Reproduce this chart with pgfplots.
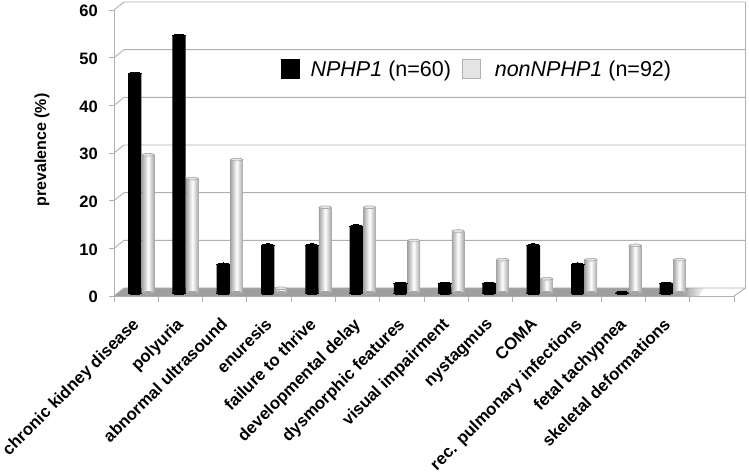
\documentclass[border=0pt]{standalone}
\usepackage{pgfplots}
\pgfplotsset{compat=1.18}
\usepackage{pgfplotstable}
\usepackage{fontspec}
\setmainfont{Liberation Sans}
\definecolor{wall}{RGB}{176,176,176}
\definecolor{floorgray}{RGB}{158,158,158}
\definecolor{lightbar}{RGB}{228,228,228}
\definecolor{barside}{RGB}{165,165,165}

% x = slot position of the black bar, gray bar next to it
\pgfplotstableread{
xb xg nphp non base
0.47 0.77 46 29 0
1.47 1.77 54 24 0
2.47 2.77 6 28 0
3.47 3.77 10 1 0
4.47 4.77 10 18 0
5.47 5.77 14 18 0
6.47 6.77 2 11 0
7.47 7.77 2 13 0
8.47 8.77 2 7 0
9.47 9.77 10 3 0
10.47 10.77 6 7 0
11.47 11.77 0 10 0
12.47 12.77 2 7 0
}\prevdata

% one gray bar, so each gets its own cylinder shading
\newcommand{\graybar}[2]{\addplot[forget plot, ybar, bar width=12.5pt, bar shift=0pt, yshift=3pt, draw=none, left color=barside, right color=barside, middle color=white, skip coords between index={0}{#1}, skip coords between index={#2}{13}] table[x=xg, y=non] {\prevdata};}

\begin{document}
\begin{tikzpicture}
\path[use as bounding box] (-114pt,-178pt) rectangle (635pt,296pt);
\begin{axis}[
    scale only axis, width=620pt, height=286pt,
    at={(0pt,0pt)}, anchor=origin,
    xmin=0, xmax=14, ymin=0, ymax=60,
    clip=false,
    axis x line=bottom, axis y line=left,
    axis line style={wall, line width=0.9pt, -},
    ytick={0,10,...,60},
    xtick={0.5,1.5,2.5,3.5,4.5,5.5,6.5,7.5,8.5,9.5,10.5,11.5,12.5},
    xticklabels={chronic kidney disease,polyuria,abnormal ultrasound,enuresis,failure to thrive,developmental delay,dysmorphic features,visual impairment,nystagmus,COMA,rec. pulmonary infections,fetal tachypnea,skeletal deformations},
    minor xtick={0,1,...,14},
    % the shifts act along the rotated text
    x tick label style={font=\fontsize{16.8}{17}\selectfont\bfseries, rotate=45, anchor=north east, inner sep=0pt, xshift=-14.5pt, yshift=-7.5pt},
    y tick label style={font=\fontsize{16.5}{17}\selectfont\bfseries, inner sep=0pt, xshift=-11pt, yshift=-1pt},
    /pgf/number format/assume math mode=true,
    tick style={wall, line width=0.8pt},
    major x tick style={draw=none},
    major tick length=5pt, minor tick length=6pt,
    tick align=outside,
    ylabel={prevalence (\%)},
    every axis y label/.style={at={(-72pt,146pt)}, rotate=90, anchor=center, font=\fontsize{16}{16}\selectfont\bfseries},
    legend style={at={(164pt,227pt)}, anchor=west, draw=none, fill=none,
        font=\fontsize{21.5}{22}\selectfont, /tikz/every even column/.append style={column sep=9pt}},
    legend columns=2,
    legend cell align=left,
]
% floor of the 3d box
\addplot[forget plot, draw=none, fill=floorgray] coordinates {(0,0)(0.226,1.68)(13,1.68)(12.85,0)} -- cycle;
\addplot[forget plot, draw=none, left color=floorgray, right color=white] coordinates {(12.85,0)(13,1.68)(13.35,1.68)(13.2,0)} -- cycle;
% back wall grid
\addplot[forget plot, wall, line width=0.9pt, unbounded coords=jump] coordinates {
(0,0)(0.226,1.68)(14.26,1.68) (0,nan)
(0,10)(0.226,11.68)(14.26,11.68) (0,nan)
(0,20)(0.226,21.68)(14.26,21.68) (0,nan)
(0,30)(0.226,31.68)(14.26,31.68) (0,nan)
(0,40)(0.226,41.68)(14.26,41.68) (0,nan)
(0,50)(0.226,51.68)(14.26,51.68) (0,nan)
(0,60)(0.226,61.68)(14.26,61.68) (0,nan)
(14,0)(14.26,1.68)(14.26,61.68)
};
% feet of the cylinders go under the bars (plot marks stroke even with draw=none)
\addplot[forget plot, only marks, yshift=3pt, mark=*, mark size=6.6pt, mark options={yscale=0.22, fill=black, draw=black, line width=0pt}] table[x=xb, y=base] {\prevdata};
\addplot[forget plot, only marks, yshift=3pt, mark=*, mark size=6pt, mark options={yscale=0.22, fill=barside, draw=barside, line width=0pt}] table[x=xg, y=base] {\prevdata};
% bars, lifted a little off the front edge
\addplot[forget plot, ybar, bar width=13.3pt, bar shift=0pt, yshift=3pt, fill=black, draw=none] table[x=xb, y=nphp] {\prevdata};
\addplot[forget plot, only marks, yshift=3pt, mark=*, mark size=6.6pt, mark options={yscale=0.22, fill=black, draw=black, line width=0pt}] table[x=xb, y=nphp] {\prevdata};
\graybar{0}{1}\graybar{1}{2}\graybar{2}{3}\graybar{3}{4}\graybar{4}{5}\graybar{5}{6}\graybar{6}{7}
\graybar{7}{8}\graybar{8}{9}\graybar{9}{10}\graybar{10}{11}\graybar{11}{12}\graybar{12}{13}
\addplot[forget plot, only marks, yshift=3pt, mark=*, mark size=6.2pt, mark options={yscale=0.22, fill=lightbar, draw=barside, line width=0.6pt}] table[x=xg, y=non] {\prevdata};
% legend
\addlegendimage{legend image code/.code={\fill[black] (0pt,-9.5pt) rectangle (18pt,9.5pt);}}
\addlegendentry{\hspace{9pt}\textit{NPHP1} (n=60)}
\addlegendimage{legend image code/.code={\filldraw[fill=lightbar, draw=wall, line width=0.8pt] (0pt,-9.5pt) rectangle (18pt,9.5pt);}}
\addlegendentry{\hspace{12pt}\textit{nonNPHP1} (n=92)}
\end{axis}
\end{tikzpicture}
\end{document}
